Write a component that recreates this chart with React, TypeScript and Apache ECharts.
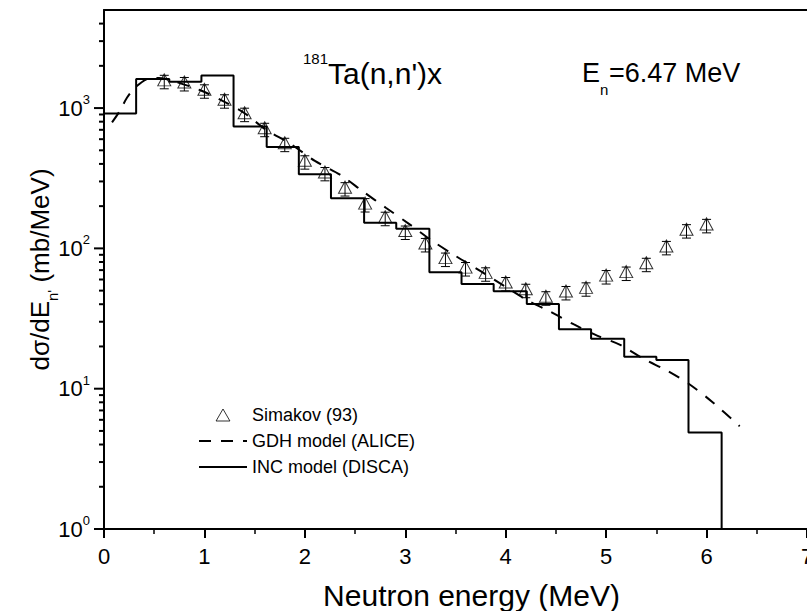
import React, { useEffect, useRef } from "react";
import * as echarts from "echarts";

const FONT = '"Liberation Sans", Arial, Helvetica, sans-serif';

// INC model (DISCA) histogram: bin edges and bin values (mb/MeV)
const incBinEdges = [0, 0.32, 0.65, 0.97, 1.29, 1.62, 1.94, 2.26, 2.59, 2.91, 3.24, 3.56, 3.88, 4.21, 4.53, 4.85, 5.18, 5.5, 5.82, 6.15, 6.47];
const incValues = [914, 1610, 1540, 1710, 738, 528, 338, 228, 152, 138, 67.5, 55.7, 49.4, 40.1, 26.5, 22.7, 16.9, 16.0, 4.87, 1];

// GDH model (ALICE) curve
const gdhEnergy = [0.08, 0.16, 0.23, 0.31, 0.43, 0.55, 0.7, 0.96, 1.19, 1.4, 1.62, 1.85, 2.1, 2.35, 2.58, 2.81, 3.04, 3.27, 3.51, 3.75, 3.98, 4.21, 4.45, 4.68, 4.91, 5.14, 5.38, 5.62, 5.85, 6.06, 6.33];
const gdhValues = [790, 960, 1190, 1400, 1610, 1640, 1550, 1340, 1117, 918, 695, 561, 420, 335, 254, 194, 149, 113, 87.5, 68.9, 54.3, 42.9, 35.2, 28.7, 23.9, 20.5, 16.2, 13.3, 10.5, 8.0, 5.4];

// Simakov (93) experimental data
const simakovEnergy = [0.6, 0.8, 1.0, 1.2, 1.4, 1.6, 1.8, 2.0, 2.2, 2.4, 2.6, 2.8, 3.0, 3.2, 3.4, 3.6, 3.8, 4.0, 4.2, 4.4, 4.6, 4.8, 5.0, 5.2, 5.4, 5.6, 5.8, 6.0];
const simakovValues = [1542, 1488, 1320, 1121, 899, 702, 549, 412, 340, 265, 204, 163, 130, 106, 83.4, 71.4, 65.5, 55.9, 50, 44.2, 48.2, 51.2, 62.6, 66.3, 76.6, 101, 133, 145];
const simakovErrors = [170, 164, 145, 123, 99, 77, 60, 45, 37, 29, 22.4, 18, 14.3, 11.7, 9.2, 7.9, 7.2, 6.1, 5.5, 4.9, 5.3, 5.6, 6.9, 7.3, 8.4, 11.1, 14.6, 16];

// Axis tick values (log axis, decades and minor ticks)
const yMajorTicks = [1, 10, 100, 1000];
const yMinorTicks = [2, 3, 4, 5, 6, 7, 8, 9, 20, 30, 40, 50, 60, 70, 80, 90, 200, 300, 400, 500, 600, 700, 800, 900, 2000, 3000, 4000];

export default function App() {
  const ref = useRef<HTMLDivElement>(null);

  useEffect(() => {
    if (!ref.current) return;
    const chart = echarts.init(ref.current, null, { renderer: "svg" });

    const incData = incBinEdges.map((e, i) => [e, incValues[Math.min(i, incValues.length - 1)]]);
    const gdhData = gdhEnergy.map((e, i) => [e, gdhValues[i]]);
    const simData = simakovEnergy.map((e, i) => [e, simakovValues[i]]);
    const errData = simakovEnergy.map((e, i) => [e, simakovValues[i] - simakovErrors[i], simakovValues[i] + simakovErrors[i]]);
    const tickData = [
      ...yMajorTicks.map((v) => [0, v, 1]),
      ...yMinorTicks.map((v) => [0, v, 0]),
    ];

    const txt = (text: string, x: number, y: number, size: number) => ({
      type: "text",
      x,
      y,
      style: {
        text,
        fontFamily: FONT,
        fontSize: size,
        fill: "#000",
        textAlign: "left",
        textVerticalAlign: "middle",
      },
    });

    const option: any = {
      animation: false,
      backgroundColor: "#fff",
      textStyle: { fontFamily: FONT, color: "#000" },
      grid: { left: 104, right: 0, top: 10, bottom: 82, containLabel: false, outerBoundsMode: "none" },
      legend: {
        orient: "vertical",
        left: 193,
        top: 401,
        itemWidth: 48,
        itemHeight: 12,
        itemGap: 8,
        symbolKeepAspect: true,
        selectedMode: false,
        textStyle: { fontFamily: FONT, fontSize: 18, color: "#000" },
        data: [
          {
            name: "Simakov (93)",
            icon: "path://M6,0L12,10.4L0,10.4Z",
            itemStyle: { color: "transparent", borderColor: "#000", borderWidth: 1 },
          },
          { name: "GDH model (ALICE)", itemStyle: { opacity: 0 } },
          { name: "INC model (DISCA)", itemStyle: { opacity: 0 } },
        ],
      },
      xAxis: [
        {
          type: "value",
          min: 0,
          max: 7,
          interval: 1,
          name: "Neutron energy (MeV)",
          nameLocation: "middle",
          nameGap: 51,
          nameMoveOverlap: false,
          nameTextStyle: { fontFamily: FONT, fontSize: 30, color: "#000", padding: [0, 0, 0, 32] },
          axisLine: { show: true, onZero: false, lineStyle: { color: "#000", width: 2 } },
          axisTick: { show: true, inside: false, length: 9, lineStyle: { color: "#000", width: 2 } },
          minorTick: { show: true, splitNumber: 2, length: 5, lineStyle: { color: "#000", width: 1.5 } },
          axisLabel: { fontFamily: FONT, fontSize: 22, color: "#000", margin: 16 },
          splitLine: { show: false },
        },
        {
          type: "value",
          position: "top",
          min: 0,
          max: 7,
          interval: 1,
          axisLine: { show: true, onZero: false, lineStyle: { color: "#000", width: 2 } },
          axisTick: { show: false },
          axisLabel: { show: false },
          splitLine: { show: false },
        },
      ],
      yAxis: {
        type: "log",
        logBase: 10,
        min: 1,
        max: 5000,
        name: "{m|dσ/dE}{s|n'}{m| (mb/MeV)}",
        nameLocation: "middle",
        nameGap: 44,
        nameMoveOverlap: false,
        nameTextStyle: {
          fontFamily: FONT,
          color: "#000",
          rich: {
            m: { fontFamily: FONT, fontSize: 26, color: "#000", lineHeight: 40 },
            s: { fontFamily: FONT, fontSize: 15, color: "#000", lineHeight: 14, verticalAlign: "bottom" },
          },
        },
        axisLine: { show: true, onZero: false, lineStyle: { color: "#000", width: 2 } },
        axisTick: { show: false },
        minorTick: { show: false },
        splitLine: { show: false },
        axisLabel: {
          margin: 14,
          formatter: (v: number) => {
            const p = Math.round(Math.log10(v));
            if (Math.abs(Math.pow(10, p) - v) > 1e-6 * v) return "";
            return `{b|10}{s|${p}}`;
          },
          rich: {
            b: { fontFamily: FONT, fontSize: 22, color: "#000", lineHeight: 30 },
            s: { fontFamily: FONT, fontSize: 13, color: "#000", lineHeight: 12, verticalAlign: "top" },
          },
        },
      },
      graphic: [
        txt("181", 303, 58, 15),
        txt("Ta(n,n')x", 328, 73.5, 30),
        txt("E", 582, 73, 27),
        txt("n", 600, 89, 15),
        txt("=6.47 MeV", 609, 73, 27),
      ],
      series: [
        {
          name: "INC model (DISCA)",
          type: "line",
          step: "end",
          data: incData,
          symbol: "none",
          lineStyle: { color: "#000", width: 2 },
          itemStyle: { color: "#000" },
          z: 3,
        },
        {
          name: "GDH model (ALICE)",
          type: "line",
          smooth: 0.3,
          data: gdhData,
          symbol: "none",
          lineStyle: { color: "#000", width: 2, type: [12, 10] },
          itemStyle: { color: "#000" },
          z: 3,
        },
        {
          name: "Simakov errors",
          type: "custom",
          data: errData,
          silent: true,
          z: 4,
          encode: { x: 0, y: [1, 2] },
          renderItem: (_params: any, api: any) => {
            const lo = api.coord([api.value(0), api.value(1)]);
            const hi = api.coord([api.value(0), api.value(2)]);
            const w = 4.5;
            const st = { stroke: "#000", lineWidth: 1 };
            return {
              type: "group",
              children: [
                { type: "line", shape: { x1: lo[0], y1: lo[1], x2: hi[0], y2: hi[1] }, style: st },
                { type: "line", shape: { x1: lo[0] - w, y1: lo[1], x2: lo[0] + w, y2: lo[1] }, style: st },
                { type: "line", shape: { x1: hi[0] - w, y1: hi[1], x2: hi[0] + w, y2: hi[1] }, style: st },
              ],
            };
          },
        },
        {
          name: "Simakov (93)",
          type: "scatter",
          data: simData,
          symbol: "triangle",
          symbolSize: [13, 12],
          symbolOffset: [0, -1.8],
          itemStyle: { color: "transparent", borderColor: "#000", borderWidth: 1 },
          z: 5,
        },
        {
          name: "y ticks",
          type: "custom",
          data: tickData,
          silent: true,
          clip: false,
          z: 6,
          renderItem: (_params: any, api: any) => {
            const p = api.coord([api.value(0), api.value(1)]);
            const len = api.value(2) ? 10 : 5;
            return {
              type: "line",
              shape: { x1: p[0] - len, y1: p[1], x2: p[0], y2: p[1] },
              style: { stroke: "#000", lineWidth: 2 },
            };
          },
        },
      ],
    };

    chart.setOption(option);
    return () => chart.dispose();
  }, []);

  return (
    <div
      ref={ref}
      style={{ position: "fixed", left: 0, top: 0, width: 807, height: 611, background: "#fff" }}
    />
  );
}
